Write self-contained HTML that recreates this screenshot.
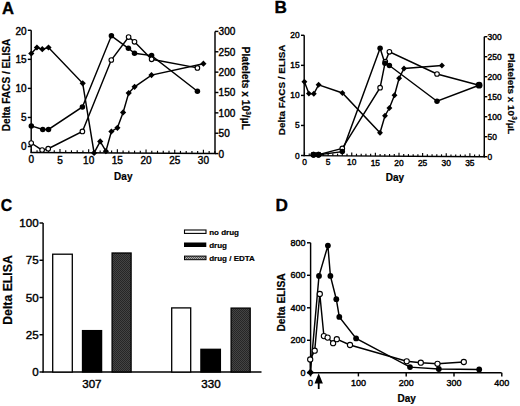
<!DOCTYPE html>
<html><head><meta charset="utf-8"><style>
html,body{margin:0;padding:0;background:#fff;}
body{width:520px;height:406px;overflow:hidden;}
svg{display:block;font-family:"Liberation Sans",sans-serif;}
.t{stroke:#000;stroke-width:0.4px;}
.b{stroke:#000;stroke-width:0.2px;}
.L{stroke:#000;stroke-width:0.35px;}
</style></head><body>
<svg width="520" height="406" viewBox="0 0 520 406">
<defs>
<pattern id="hatch" width="2" height="2" patternUnits="userSpaceOnUse">
<rect width="2" height="2" fill="#444"/><rect width="1" height="1" fill="#262626"/><rect x="1" y="1" width="1" height="1" fill="#262626"/>
</pattern>
<pattern id="hatch2" width="2" height="2" patternUnits="userSpaceOnUse">
<rect width="2" height="2" fill="#aaa"/><rect width="1" height="1" fill="#555"/><rect x="1" y="1" width="1" height="1" fill="#555"/>
</pattern>
</defs>
<rect width="520" height="406" fill="#fff"/>
<text x="2.00" y="14.00" font-size="16.60" text-anchor="start" font-weight="bold" class="L">A</text>
<text x="274.50" y="13.40" font-size="17.20" text-anchor="start" font-weight="bold" class="L">B</text>
<text class="L" transform="translate(0.8 210.8) scale(0.92 1)" font-size="17.2" font-weight="bold">C</text>
<text x="275.40" y="211.30" font-size="17.20" text-anchor="start" font-weight="bold" class="L">D</text>
<line x1="31.20" y1="30.30" x2="31.20" y2="153.10" stroke="#000" stroke-width="1.45"/>
<line x1="27.80" y1="146.50" x2="31.20" y2="146.50" stroke="#000" stroke-width="1.45"/>
<text x="26.50" y="150.05" font-size="10.00" text-anchor="end"  class="t">0</text>
<line x1="27.80" y1="117.45" x2="31.20" y2="117.45" stroke="#000" stroke-width="1.45"/>
<text x="26.50" y="121.00" font-size="10.00" text-anchor="end"  class="t">5</text>
<line x1="27.80" y1="88.40" x2="31.20" y2="88.40" stroke="#000" stroke-width="1.45"/>
<text x="26.50" y="91.95" font-size="10.00" text-anchor="end"  class="t">10</text>
<line x1="27.80" y1="59.35" x2="31.20" y2="59.35" stroke="#000" stroke-width="1.45"/>
<text x="26.50" y="62.90" font-size="10.00" text-anchor="end"  class="t">15</text>
<line x1="27.80" y1="30.30" x2="31.20" y2="30.30" stroke="#000" stroke-width="1.45"/>
<text x="26.50" y="34.75" font-size="10.00" text-anchor="end"  class="t">20</text>
<line x1="30.60" y1="152.50" x2="215.60" y2="153.50" stroke="#000" stroke-width="1.45"/>
<line x1="31.30" y1="152.50" x2="31.30" y2="148.90" stroke="#000" stroke-width="1.15"/>
<line x1="37.04" y1="152.53" x2="37.04" y2="150.13" stroke="#000" stroke-width="1.15"/>
<line x1="42.77" y1="152.56" x2="42.77" y2="150.16" stroke="#000" stroke-width="1.15"/>
<line x1="48.51" y1="152.59" x2="48.51" y2="150.19" stroke="#000" stroke-width="1.15"/>
<line x1="54.25" y1="152.63" x2="54.25" y2="150.23" stroke="#000" stroke-width="1.15"/>
<line x1="59.98" y1="152.66" x2="59.98" y2="149.06" stroke="#000" stroke-width="1.15"/>
<line x1="65.72" y1="152.69" x2="65.72" y2="150.29" stroke="#000" stroke-width="1.15"/>
<line x1="71.46" y1="152.72" x2="71.46" y2="150.32" stroke="#000" stroke-width="1.15"/>
<line x1="77.20" y1="152.75" x2="77.20" y2="150.35" stroke="#000" stroke-width="1.15"/>
<line x1="82.93" y1="152.78" x2="82.93" y2="150.38" stroke="#000" stroke-width="1.15"/>
<line x1="88.67" y1="152.81" x2="88.67" y2="149.21" stroke="#000" stroke-width="1.15"/>
<line x1="94.41" y1="152.84" x2="94.41" y2="150.44" stroke="#000" stroke-width="1.15"/>
<line x1="100.14" y1="152.87" x2="100.14" y2="150.47" stroke="#000" stroke-width="1.15"/>
<line x1="105.88" y1="152.91" x2="105.88" y2="150.51" stroke="#000" stroke-width="1.15"/>
<line x1="111.62" y1="152.94" x2="111.62" y2="150.54" stroke="#000" stroke-width="1.15"/>
<line x1="117.36" y1="152.97" x2="117.36" y2="149.37" stroke="#000" stroke-width="1.15"/>
<line x1="123.09" y1="153.00" x2="123.09" y2="150.60" stroke="#000" stroke-width="1.15"/>
<line x1="128.83" y1="153.03" x2="128.83" y2="150.63" stroke="#000" stroke-width="1.15"/>
<line x1="134.57" y1="153.06" x2="134.57" y2="150.66" stroke="#000" stroke-width="1.15"/>
<line x1="140.30" y1="153.09" x2="140.30" y2="150.69" stroke="#000" stroke-width="1.15"/>
<line x1="146.04" y1="153.12" x2="146.04" y2="149.52" stroke="#000" stroke-width="1.15"/>
<line x1="151.78" y1="153.16" x2="151.78" y2="150.76" stroke="#000" stroke-width="1.15"/>
<line x1="157.51" y1="153.19" x2="157.51" y2="150.79" stroke="#000" stroke-width="1.15"/>
<line x1="163.25" y1="153.22" x2="163.25" y2="150.82" stroke="#000" stroke-width="1.15"/>
<line x1="168.99" y1="153.25" x2="168.99" y2="150.85" stroke="#000" stroke-width="1.15"/>
<line x1="174.73" y1="153.28" x2="174.73" y2="149.68" stroke="#000" stroke-width="1.15"/>
<line x1="180.46" y1="153.31" x2="180.46" y2="150.91" stroke="#000" stroke-width="1.15"/>
<line x1="186.20" y1="153.34" x2="186.20" y2="150.94" stroke="#000" stroke-width="1.15"/>
<line x1="191.94" y1="153.37" x2="191.94" y2="150.97" stroke="#000" stroke-width="1.15"/>
<line x1="197.67" y1="153.40" x2="197.67" y2="151.00" stroke="#000" stroke-width="1.15"/>
<line x1="203.41" y1="153.44" x2="203.41" y2="149.84" stroke="#000" stroke-width="1.15"/>
<line x1="209.15" y1="153.47" x2="209.15" y2="151.07" stroke="#000" stroke-width="1.15"/>
<line x1="214.88" y1="153.50" x2="214.88" y2="151.10" stroke="#000" stroke-width="1.15"/>
<text x="31.30" y="163.40" font-size="10.00" text-anchor="middle"  class="t">0</text>
<text x="59.98" y="163.52" font-size="10.00" text-anchor="middle"  class="t">5</text>
<text x="88.67" y="163.63" font-size="10.00" text-anchor="middle"  class="t">10</text>
<text x="117.36" y="163.75" font-size="10.00" text-anchor="middle"  class="t">15</text>
<text x="146.04" y="163.86" font-size="10.00" text-anchor="middle"  class="t">20</text>
<text x="174.73" y="163.97" font-size="10.00" text-anchor="middle"  class="t">25</text>
<text x="203.41" y="164.09" font-size="10.00" text-anchor="middle"  class="t">30</text>
<line x1="215.00" y1="31.41" x2="215.00" y2="154.10" stroke="#000" stroke-width="1.45"/>
<line x1="215.00" y1="153.60" x2="218.40" y2="153.60" stroke="#000" stroke-width="1.45"/>
<text x="218.60" y="157.50" font-size="10.00" text-anchor="start"  class="t">0</text>
<line x1="215.00" y1="133.23" x2="218.40" y2="133.23" stroke="#000" stroke-width="1.45"/>
<text x="218.60" y="137.13" font-size="10.00" text-anchor="start"  class="t">50</text>
<line x1="215.00" y1="112.87" x2="218.40" y2="112.87" stroke="#000" stroke-width="1.45"/>
<text x="218.60" y="116.77" font-size="10.00" text-anchor="start"  class="t">100</text>
<line x1="215.00" y1="92.50" x2="218.40" y2="92.50" stroke="#000" stroke-width="1.45"/>
<text x="218.60" y="96.41" font-size="10.00" text-anchor="start"  class="t">150</text>
<line x1="215.00" y1="72.14" x2="218.40" y2="72.14" stroke="#000" stroke-width="1.45"/>
<text x="218.60" y="76.04" font-size="10.00" text-anchor="start"  class="t">200</text>
<line x1="215.00" y1="51.77" x2="218.40" y2="51.77" stroke="#000" stroke-width="1.45"/>
<text x="218.60" y="55.67" font-size="10.00" text-anchor="start"  class="t">250</text>
<line x1="215.00" y1="31.41" x2="218.40" y2="31.41" stroke="#000" stroke-width="1.45"/>
<text x="218.60" y="35.31" font-size="10.00" text-anchor="start"  class="t">300</text>
<text x="123.30" y="179.60" font-size="10.00" text-anchor="middle" font-weight="bold"  class="b">Day</text>
<text class="b" transform="translate(10.20 85.00) rotate(-90)" x="0" y="0" font-size="10.10" text-anchor="middle" font-weight="bold" >Delta FACS / ELISA</text>
<text class="b" transform="translate(242.00 88.20) rotate(90)" x="0" y="0" font-size="10.20" text-anchor="middle" font-weight="bold" >Platelets x 10<tspan font-size="6.7" dy="-4">3</tspan><tspan dy="4">/µL</tspan></text>
<polyline points="31.30,53.50 36.90,47.50 42.30,49.20 48.50,47.50 82.70,83.30 94.10,152.90 100.20,141.40 105.90,151.20 111.40,131.50 117.40,127.80 123.10,112.40 128.70,93.10 134.60,86.80 151.50,75.10 203.40,63.70" fill="none" stroke="#000" stroke-width="1.45" stroke-linejoin="miter" />
<polyline points="31.30,125.90 42.75,129.40 48.50,129.40 82.40,106.90 111.40,35.80 128.40,48.30 134.50,53.30 151.60,55.60 197.40,91.20" fill="none" stroke="#000" stroke-width="1.45" stroke-linejoin="miter" />
<polyline points="31.20,143.00 42.10,150.10 48.20,148.70 82.40,131.40 111.30,60.00 128.60,37.10 134.50,41.80 151.60,59.30 197.40,67.90" fill="none" stroke="#000" stroke-width="1.45" stroke-linejoin="miter" />
<path d="M31.30 50.40L34.40 53.50L31.30 56.60L28.20 53.50Z" fill="#000"/>
<path d="M36.90 44.40L40.00 47.50L36.90 50.60L33.80 47.50Z" fill="#000"/>
<path d="M42.30 46.10L45.40 49.20L42.30 52.30L39.20 49.20Z" fill="#000"/>
<path d="M48.50 44.40L51.60 47.50L48.50 50.60L45.40 47.50Z" fill="#000"/>
<path d="M82.70 80.20L85.80 83.30L82.70 86.40L79.60 83.30Z" fill="#000"/>
<path d="M94.10 149.80L97.20 152.90L94.10 156.00L91.00 152.90Z" fill="#000"/>
<path d="M100.20 138.30L103.30 141.40L100.20 144.50L97.10 141.40Z" fill="#000"/>
<path d="M105.90 148.10L109.00 151.20L105.90 154.30L102.80 151.20Z" fill="#000"/>
<path d="M111.40 128.40L114.50 131.50L111.40 134.60L108.30 131.50Z" fill="#000"/>
<path d="M117.40 124.70L120.50 127.80L117.40 130.90L114.30 127.80Z" fill="#000"/>
<path d="M123.10 109.30L126.20 112.40L123.10 115.50L120.00 112.40Z" fill="#000"/>
<path d="M128.70 90.00L131.80 93.10L128.70 96.20L125.60 93.10Z" fill="#000"/>
<path d="M134.60 83.70L137.70 86.80L134.60 89.90L131.50 86.80Z" fill="#000"/>
<path d="M151.50 72.00L154.60 75.10L151.50 78.20L148.40 75.10Z" fill="#000"/>
<path d="M203.40 60.60L206.50 63.70L203.40 66.80L200.30 63.70Z" fill="#000"/>
<circle cx="31.30" cy="125.90" r="2.75" fill="#000"/>
<circle cx="42.75" cy="129.40" r="2.75" fill="#000"/>
<circle cx="48.50" cy="129.40" r="2.75" fill="#000"/>
<circle cx="82.40" cy="106.90" r="2.75" fill="#000"/>
<circle cx="111.40" cy="35.80" r="2.75" fill="#000"/>
<circle cx="128.40" cy="48.30" r="2.75" fill="#000"/>
<circle cx="134.50" cy="53.30" r="2.75" fill="#000"/>
<circle cx="151.60" cy="55.60" r="2.75" fill="#000"/>
<circle cx="197.40" cy="91.20" r="2.75" fill="#000"/>
<circle cx="31.20" cy="143.00" r="2.30" fill="#fff" stroke="#000" stroke-width="1.10"/>
<circle cx="42.10" cy="150.10" r="2.30" fill="#fff" stroke="#000" stroke-width="1.10"/>
<circle cx="48.20" cy="148.70" r="2.30" fill="#fff" stroke="#000" stroke-width="1.10"/>
<circle cx="82.40" cy="131.40" r="2.30" fill="#fff" stroke="#000" stroke-width="1.10"/>
<circle cx="111.30" cy="60.00" r="2.30" fill="#fff" stroke="#000" stroke-width="1.10"/>
<circle cx="128.60" cy="37.10" r="2.30" fill="#fff" stroke="#000" stroke-width="1.10"/>
<circle cx="134.50" cy="41.80" r="2.30" fill="#fff" stroke="#000" stroke-width="1.10"/>
<circle cx="151.60" cy="59.30" r="2.30" fill="#fff" stroke="#000" stroke-width="1.10"/>
<circle cx="197.40" cy="67.90" r="2.30" fill="#fff" stroke="#000" stroke-width="1.10"/>
<line x1="304.20" y1="35.30" x2="304.20" y2="156.20" stroke="#000" stroke-width="1.45"/>
<line x1="301.00" y1="155.50" x2="304.20" y2="155.50" stroke="#000" stroke-width="1.45"/>
<text x="299.60" y="158.50" font-size="8.40" text-anchor="end"  class="t">0</text>
<line x1="301.00" y1="125.45" x2="304.20" y2="125.45" stroke="#000" stroke-width="1.45"/>
<text x="299.60" y="128.45" font-size="8.40" text-anchor="end"  class="t">5</text>
<line x1="301.00" y1="95.40" x2="304.20" y2="95.40" stroke="#000" stroke-width="1.45"/>
<text x="299.60" y="98.40" font-size="8.40" text-anchor="end"  class="t">10</text>
<line x1="301.00" y1="65.35" x2="304.20" y2="65.35" stroke="#000" stroke-width="1.45"/>
<text x="299.60" y="68.35" font-size="8.40" text-anchor="end"  class="t">15</text>
<line x1="301.00" y1="35.30" x2="304.20" y2="35.30" stroke="#000" stroke-width="1.45"/>
<text x="299.60" y="38.30" font-size="8.40" text-anchor="end"  class="t">20</text>
<line x1="303.60" y1="155.60" x2="484.90" y2="156.80" stroke="#000" stroke-width="1.45"/>
<line x1="304.50" y1="155.60" x2="304.50" y2="152.20" stroke="#000" stroke-width="1.15"/>
<line x1="309.23" y1="155.63" x2="309.23" y2="153.43" stroke="#000" stroke-width="1.15"/>
<line x1="313.95" y1="155.66" x2="313.95" y2="153.47" stroke="#000" stroke-width="1.15"/>
<line x1="318.68" y1="155.70" x2="318.68" y2="153.50" stroke="#000" stroke-width="1.15"/>
<line x1="323.40" y1="155.73" x2="323.40" y2="153.53" stroke="#000" stroke-width="1.15"/>
<line x1="328.12" y1="155.76" x2="328.12" y2="152.36" stroke="#000" stroke-width="1.15"/>
<line x1="332.85" y1="155.79" x2="332.85" y2="153.59" stroke="#000" stroke-width="1.15"/>
<line x1="337.57" y1="155.82" x2="337.57" y2="153.62" stroke="#000" stroke-width="1.15"/>
<line x1="342.30" y1="155.85" x2="342.30" y2="153.65" stroke="#000" stroke-width="1.15"/>
<line x1="347.02" y1="155.89" x2="347.02" y2="153.69" stroke="#000" stroke-width="1.15"/>
<line x1="351.75" y1="155.92" x2="351.75" y2="152.52" stroke="#000" stroke-width="1.15"/>
<line x1="356.48" y1="155.95" x2="356.48" y2="153.75" stroke="#000" stroke-width="1.15"/>
<line x1="361.20" y1="155.98" x2="361.20" y2="153.78" stroke="#000" stroke-width="1.15"/>
<line x1="365.93" y1="156.01" x2="365.93" y2="153.81" stroke="#000" stroke-width="1.15"/>
<line x1="370.65" y1="156.04" x2="370.65" y2="153.84" stroke="#000" stroke-width="1.15"/>
<line x1="375.38" y1="156.07" x2="375.38" y2="152.67" stroke="#000" stroke-width="1.15"/>
<line x1="380.10" y1="156.11" x2="380.10" y2="153.91" stroke="#000" stroke-width="1.15"/>
<line x1="384.82" y1="156.14" x2="384.82" y2="153.94" stroke="#000" stroke-width="1.15"/>
<line x1="389.55" y1="156.17" x2="389.55" y2="153.97" stroke="#000" stroke-width="1.15"/>
<line x1="394.27" y1="156.20" x2="394.27" y2="154.00" stroke="#000" stroke-width="1.15"/>
<line x1="399.00" y1="156.23" x2="399.00" y2="152.83" stroke="#000" stroke-width="1.15"/>
<line x1="403.73" y1="156.26" x2="403.73" y2="154.06" stroke="#000" stroke-width="1.15"/>
<line x1="408.45" y1="156.29" x2="408.45" y2="154.09" stroke="#000" stroke-width="1.15"/>
<line x1="413.18" y1="156.33" x2="413.18" y2="154.13" stroke="#000" stroke-width="1.15"/>
<line x1="417.90" y1="156.36" x2="417.90" y2="154.16" stroke="#000" stroke-width="1.15"/>
<line x1="422.62" y1="156.39" x2="422.62" y2="152.99" stroke="#000" stroke-width="1.15"/>
<line x1="427.35" y1="156.42" x2="427.35" y2="154.22" stroke="#000" stroke-width="1.15"/>
<line x1="432.07" y1="156.45" x2="432.07" y2="154.25" stroke="#000" stroke-width="1.15"/>
<line x1="436.80" y1="156.48" x2="436.80" y2="154.28" stroke="#000" stroke-width="1.15"/>
<line x1="441.52" y1="156.52" x2="441.52" y2="154.32" stroke="#000" stroke-width="1.15"/>
<line x1="446.25" y1="156.55" x2="446.25" y2="153.15" stroke="#000" stroke-width="1.15"/>
<line x1="450.98" y1="156.58" x2="450.98" y2="154.38" stroke="#000" stroke-width="1.15"/>
<line x1="455.70" y1="156.61" x2="455.70" y2="154.41" stroke="#000" stroke-width="1.15"/>
<line x1="460.42" y1="156.64" x2="460.42" y2="154.44" stroke="#000" stroke-width="1.15"/>
<line x1="465.15" y1="156.67" x2="465.15" y2="154.47" stroke="#000" stroke-width="1.15"/>
<line x1="469.88" y1="156.70" x2="469.88" y2="153.30" stroke="#000" stroke-width="1.15"/>
<line x1="474.60" y1="156.74" x2="474.60" y2="154.54" stroke="#000" stroke-width="1.15"/>
<line x1="479.32" y1="156.77" x2="479.32" y2="154.57" stroke="#000" stroke-width="1.15"/>
<line x1="484.05" y1="156.80" x2="484.05" y2="154.60" stroke="#000" stroke-width="1.15"/>
<text x="304.50" y="165.00" font-size="8.40" text-anchor="middle"  class="t">0</text>
<text x="328.12" y="165.19" font-size="8.40" text-anchor="middle"  class="t">5</text>
<text x="351.75" y="165.38" font-size="8.40" text-anchor="middle"  class="t">10</text>
<text x="375.38" y="165.57" font-size="8.40" text-anchor="middle"  class="t">15</text>
<text x="399.00" y="165.76" font-size="8.40" text-anchor="middle"  class="t">20</text>
<text x="422.62" y="165.95" font-size="8.40" text-anchor="middle"  class="t">25</text>
<text x="446.25" y="166.14" font-size="8.40" text-anchor="middle"  class="t">30</text>
<text x="469.88" y="166.33" font-size="8.40" text-anchor="middle"  class="t">35</text>
<line x1="484.30" y1="36.70" x2="484.30" y2="157.40" stroke="#000" stroke-width="1.45"/>
<line x1="484.30" y1="156.70" x2="487.30" y2="156.70" stroke="#000" stroke-width="1.45"/>
<text x="487.60" y="159.80" font-size="8.40" text-anchor="start"  class="t">0</text>
<line x1="484.30" y1="136.70" x2="487.30" y2="136.70" stroke="#000" stroke-width="1.45"/>
<text x="487.60" y="139.80" font-size="8.40" text-anchor="start"  class="t">50</text>
<line x1="484.30" y1="116.70" x2="487.30" y2="116.70" stroke="#000" stroke-width="1.45"/>
<text x="487.60" y="119.80" font-size="8.40" text-anchor="start"  class="t">100</text>
<line x1="484.30" y1="96.70" x2="487.30" y2="96.70" stroke="#000" stroke-width="1.45"/>
<text x="487.60" y="99.80" font-size="8.40" text-anchor="start"  class="t">150</text>
<line x1="484.30" y1="76.70" x2="487.30" y2="76.70" stroke="#000" stroke-width="1.45"/>
<text x="487.60" y="79.80" font-size="8.40" text-anchor="start"  class="t">200</text>
<line x1="484.30" y1="56.70" x2="487.30" y2="56.70" stroke="#000" stroke-width="1.45"/>
<text x="487.60" y="59.80" font-size="8.40" text-anchor="start"  class="t">250</text>
<line x1="484.30" y1="36.70" x2="487.30" y2="36.70" stroke="#000" stroke-width="1.45"/>
<text x="487.60" y="39.80" font-size="8.40" text-anchor="start"  class="t">300</text>
<text x="394.90" y="181.00" font-size="10.00" text-anchor="middle" font-weight="bold"  class="b">Day</text>
<text class="b" transform="translate(285.40 89.90) rotate(-90)" x="0" y="0" font-size="9.90" text-anchor="middle" font-weight="bold" >Delta FACS / ELISA</text>
<text class="b" transform="translate(508.00 93.80) rotate(90)" x="0" y="0" font-size="9.95" text-anchor="middle" font-weight="bold" >Platelets x 10<tspan font-size="6.7" dy="-3.9">3</tspan><tspan dy="3.9">/µL</tspan></text>
<polyline points="304.40,81.70 308.90,93.60 313.80,93.80 318.60,84.80 342.40,93.00 380.00,132.80 385.00,115.70 389.40,108.00 394.50,95.30 399.10,78.30 404.00,68.50 441.90,65.50" fill="none" stroke="#000" stroke-width="1.45" stroke-linejoin="miter" />
<polyline points="313.50,154.60 318.50,154.60 342.30,148.40 380.10,87.70 385.30,61.70 389.40,51.80 437.00,74.00 479.10,85.20" fill="none" stroke="#000" stroke-width="1.45" stroke-linejoin="miter" />
<polyline points="313.50,154.80 318.50,154.80 342.30,151.60 380.10,48.20 384.90,63.30 389.40,65.50 437.00,101.30 479.10,85.20" fill="none" stroke="#000" stroke-width="1.45" stroke-linejoin="miter" />
<path d="M304.40 78.75L307.35 81.70L304.40 84.65L301.45 81.70Z" fill="#000"/>
<path d="M308.90 90.65L311.85 93.60L308.90 96.55L305.95 93.60Z" fill="#000"/>
<path d="M313.80 90.85L316.75 93.80L313.80 96.75L310.85 93.80Z" fill="#000"/>
<path d="M318.60 81.85L321.55 84.80L318.60 87.75L315.65 84.80Z" fill="#000"/>
<path d="M342.40 90.05L345.35 93.00L342.40 95.95L339.45 93.00Z" fill="#000"/>
<path d="M380.00 129.85L382.95 132.80L380.00 135.75L377.05 132.80Z" fill="#000"/>
<path d="M385.00 112.75L387.95 115.70L385.00 118.65L382.05 115.70Z" fill="#000"/>
<path d="M389.40 105.05L392.35 108.00L389.40 110.95L386.45 108.00Z" fill="#000"/>
<path d="M394.50 92.35L397.45 95.30L394.50 98.25L391.55 95.30Z" fill="#000"/>
<path d="M399.10 75.35L402.05 78.30L399.10 81.25L396.15 78.30Z" fill="#000"/>
<path d="M404.00 65.55L406.95 68.50L404.00 71.45L401.05 68.50Z" fill="#000"/>
<path d="M441.90 62.55L444.85 65.50L441.90 68.45L438.95 65.50Z" fill="#000"/>
<circle cx="313.50" cy="154.60" r="2.30" fill="#fff" stroke="#000" stroke-width="1.10"/>
<circle cx="318.50" cy="154.60" r="2.30" fill="#fff" stroke="#000" stroke-width="1.10"/>
<circle cx="342.30" cy="148.40" r="2.30" fill="#fff" stroke="#000" stroke-width="1.10"/>
<circle cx="380.10" cy="87.70" r="2.30" fill="#fff" stroke="#000" stroke-width="1.10"/>
<circle cx="385.30" cy="61.70" r="2.30" fill="#fff" stroke="#000" stroke-width="1.10"/>
<circle cx="389.40" cy="51.80" r="2.30" fill="#fff" stroke="#000" stroke-width="1.10"/>
<circle cx="437.00" cy="74.00" r="2.30" fill="#fff" stroke="#000" stroke-width="1.10"/>
<circle cx="479.10" cy="85.20" r="2.30" fill="#fff" stroke="#000" stroke-width="1.10"/>
<circle cx="313.50" cy="154.80" r="2.75" fill="#000"/>
<circle cx="318.50" cy="154.80" r="2.75" fill="#000"/>
<circle cx="342.30" cy="151.60" r="2.75" fill="#000"/>
<circle cx="380.10" cy="48.20" r="2.75" fill="#000"/>
<circle cx="384.90" cy="63.30" r="2.75" fill="#000"/>
<circle cx="389.40" cy="65.50" r="2.75" fill="#000"/>
<circle cx="437.00" cy="101.30" r="2.75" fill="#000"/>
<circle cx="479.10" cy="85.20" r="2.75" fill="#000"/>
<circle cx="313.50" cy="154.80" r="3.00" fill="#000"/>
<circle cx="318.50" cy="154.80" r="3.00" fill="#000"/>
<circle cx="479.10" cy="85.20" r="3.40" fill="#000"/>
<line x1="43.10" y1="223.00" x2="43.10" y2="372.60" stroke="#000" stroke-width="1.45"/>
<line x1="39.50" y1="372.00" x2="43.10" y2="372.00" stroke="#000" stroke-width="1.45"/>
<text x="38.60" y="376.10" font-size="11.60" text-anchor="end"  class="t">0</text>
<line x1="39.50" y1="334.75" x2="43.10" y2="334.75" stroke="#000" stroke-width="1.45"/>
<text x="38.60" y="338.85" font-size="11.60" text-anchor="end"  class="t">25</text>
<line x1="39.50" y1="297.50" x2="43.10" y2="297.50" stroke="#000" stroke-width="1.45"/>
<text x="38.60" y="301.60" font-size="11.60" text-anchor="end"  class="t">50</text>
<line x1="39.50" y1="260.25" x2="43.10" y2="260.25" stroke="#000" stroke-width="1.45"/>
<text x="38.60" y="264.35" font-size="11.60" text-anchor="end"  class="t">75</text>
<line x1="39.50" y1="223.00" x2="43.10" y2="223.00" stroke="#000" stroke-width="1.45"/>
<text x="38.60" y="227.10" font-size="11.60" text-anchor="end"  class="t">100</text>
<line x1="42.50" y1="372.00" x2="261.50" y2="372.00" stroke="#000" stroke-width="1.45"/>
<rect x="52.70" y="254.20" width="19.60" height="117.80" fill="#fff" stroke="#000" stroke-width="1.3"/>
<rect x="82.50" y="330.60" width="19.10" height="41.40" fill="#000" stroke="#000" stroke-width="1.3"/>
<rect x="112.10" y="253.00" width="19.00" height="119.00" fill="url(#hatch)" stroke="#000" stroke-width="1.3"/>
<rect x="171.70" y="307.90" width="19.00" height="64.10" fill="#fff" stroke="#000" stroke-width="1.3"/>
<rect x="200.90" y="349.30" width="19.50" height="22.70" fill="#000" stroke="#000" stroke-width="1.3"/>
<rect x="231.10" y="308.10" width="19.10" height="63.90" fill="url(#hatch)" stroke="#000" stroke-width="1.3"/>
<text x="91.90" y="388.00" font-size="11.60" text-anchor="middle"  class="t">307</text>
<text x="211.00" y="388.00" font-size="11.60" text-anchor="middle"  class="t">330</text>
<rect x="184.5" y="230.0" width="21.5" height="3.4" fill="#fff" stroke="#000" stroke-width="1.1"/>
<rect x="184.0" y="242.5" width="22.3" height="4.5" fill="#000"/>
<rect x="184.5" y="256.1" width="21.5" height="3.6" fill="url(#hatch2)" stroke="#000" stroke-width="1.0"/>
<text x="209.20" y="234.60" font-size="8.00" text-anchor="start" font-weight="bold"  class="b">no drug</text>
<text x="209.20" y="247.90" font-size="8.00" text-anchor="start" font-weight="bold"  class="b">drug</text>
<text x="209.20" y="260.90" font-size="8.00" text-anchor="start" font-weight="bold"  class="b">drug / EDTA</text>
<text class="b" transform="translate(12.00 290.00) rotate(-90)" x="0" y="0" font-size="12.30" text-anchor="middle" font-weight="bold" >Delta ELISA</text>
<line x1="310.60" y1="242.80" x2="310.60" y2="372.80" stroke="#000" stroke-width="1.45"/>
<line x1="307.00" y1="372.80" x2="310.60" y2="372.80" stroke="#000" stroke-width="1.45"/>
<text x="305.60" y="375.70" font-size="9.00" text-anchor="end"  class="t">0</text>
<line x1="307.00" y1="340.30" x2="310.60" y2="340.30" stroke="#000" stroke-width="1.45"/>
<text x="305.60" y="343.20" font-size="9.00" text-anchor="end"  class="t">200</text>
<line x1="307.00" y1="307.80" x2="310.60" y2="307.80" stroke="#000" stroke-width="1.45"/>
<text x="305.60" y="310.70" font-size="9.00" text-anchor="end"  class="t">400</text>
<line x1="307.00" y1="275.30" x2="310.60" y2="275.30" stroke="#000" stroke-width="1.45"/>
<text x="305.60" y="278.20" font-size="9.00" text-anchor="end"  class="t">600</text>
<line x1="307.00" y1="242.80" x2="310.60" y2="242.80" stroke="#000" stroke-width="1.45"/>
<text x="305.60" y="245.70" font-size="9.00" text-anchor="end"  class="t">800</text>
<line x1="310.00" y1="372.80" x2="501.60" y2="372.80" stroke="#000" stroke-width="1.45"/>
<line x1="310.60" y1="372.80" x2="310.60" y2="376.40" stroke="#000" stroke-width="1.45"/>
<text x="310.60" y="385.70" font-size="9.00" text-anchor="middle"  class="t">0</text>
<line x1="358.40" y1="372.80" x2="358.40" y2="376.40" stroke="#000" stroke-width="1.45"/>
<text x="358.40" y="385.70" font-size="9.00" text-anchor="middle"  class="t">100</text>
<line x1="406.20" y1="372.80" x2="406.20" y2="376.40" stroke="#000" stroke-width="1.45"/>
<text x="406.20" y="385.70" font-size="9.00" text-anchor="middle"  class="t">200</text>
<line x1="454.00" y1="372.80" x2="454.00" y2="376.40" stroke="#000" stroke-width="1.45"/>
<text x="454.00" y="385.70" font-size="9.00" text-anchor="middle"  class="t">300</text>
<line x1="501.80" y1="372.80" x2="501.80" y2="376.40" stroke="#000" stroke-width="1.45"/>
<text x="501.80" y="385.70" font-size="9.00" text-anchor="middle"  class="t">400</text>
<text x="406.70" y="402.40" font-size="10.00" text-anchor="middle" font-weight="bold"  class="b">Day</text>
<text class="b" transform="translate(285.20 302.40) rotate(-90)" x="0" y="0" font-size="10.30" text-anchor="middle" font-weight="bold" >Delta ELISA</text>
<path d="M318.7 373.3 L322.9 383.4 L319.6 383.4 L319.6 389 L317.8 389 L317.8 383.4 L314.5 383.4 Z" fill="#000"/>
<polyline points="310.40,372.40 319.00,275.90 327.90,245.60 330.40,275.90 336.30,299.20 339.30,316.90 356.10,338.40 410.00,367.10 438.80,369.00 479.20,369.50" fill="none" stroke="#000" stroke-width="1.45" stroke-linejoin="miter" />
<polyline points="310.40,372.40 310.20,359.50 314.70,350.70 319.80,294.00 323.90,336.10 327.60,337.60 333.10,343.20 336.80,339.20 350.00,345.00 406.70,361.30 420.80,362.70 437.50,363.80 463.80,362.00" fill="none" stroke="#000" stroke-width="1.45" stroke-linejoin="miter" />
<circle cx="319.00" cy="275.90" r="2.90" fill="#000"/>
<circle cx="327.90" cy="245.60" r="2.90" fill="#000"/>
<circle cx="330.40" cy="275.90" r="2.90" fill="#000"/>
<circle cx="336.30" cy="299.20" r="2.90" fill="#000"/>
<circle cx="339.30" cy="316.90" r="2.90" fill="#000"/>
<circle cx="356.10" cy="338.40" r="2.90" fill="#000"/>
<circle cx="410.00" cy="367.10" r="2.90" fill="#000"/>
<circle cx="438.80" cy="369.00" r="2.90" fill="#000"/>
<circle cx="479.20" cy="369.50" r="2.90" fill="#000"/>
<circle cx="310.20" cy="359.50" r="2.60" fill="#fff" stroke="#000" stroke-width="1.10"/>
<circle cx="314.70" cy="350.70" r="2.60" fill="#fff" stroke="#000" stroke-width="1.10"/>
<circle cx="319.80" cy="294.00" r="2.60" fill="#fff" stroke="#000" stroke-width="1.10"/>
<circle cx="323.90" cy="336.10" r="2.60" fill="#fff" stroke="#000" stroke-width="1.10"/>
<circle cx="327.60" cy="337.60" r="2.60" fill="#fff" stroke="#000" stroke-width="1.10"/>
<circle cx="333.10" cy="343.20" r="2.60" fill="#fff" stroke="#000" stroke-width="1.10"/>
<circle cx="336.80" cy="339.20" r="2.60" fill="#fff" stroke="#000" stroke-width="1.10"/>
<circle cx="350.00" cy="345.00" r="2.60" fill="#fff" stroke="#000" stroke-width="1.10"/>
<circle cx="406.70" cy="361.30" r="2.60" fill="#fff" stroke="#000" stroke-width="1.10"/>
<circle cx="420.80" cy="362.70" r="2.60" fill="#fff" stroke="#000" stroke-width="1.10"/>
<circle cx="437.50" cy="363.80" r="2.60" fill="#fff" stroke="#000" stroke-width="1.10"/>
<circle cx="463.80" cy="362.00" r="2.60" fill="#fff" stroke="#000" stroke-width="1.10"/>
<path d="M310.40 368.70L314.10 372.40L310.40 376.10L306.70 372.40Z" fill="#000"/>
</svg>
</body></html>
